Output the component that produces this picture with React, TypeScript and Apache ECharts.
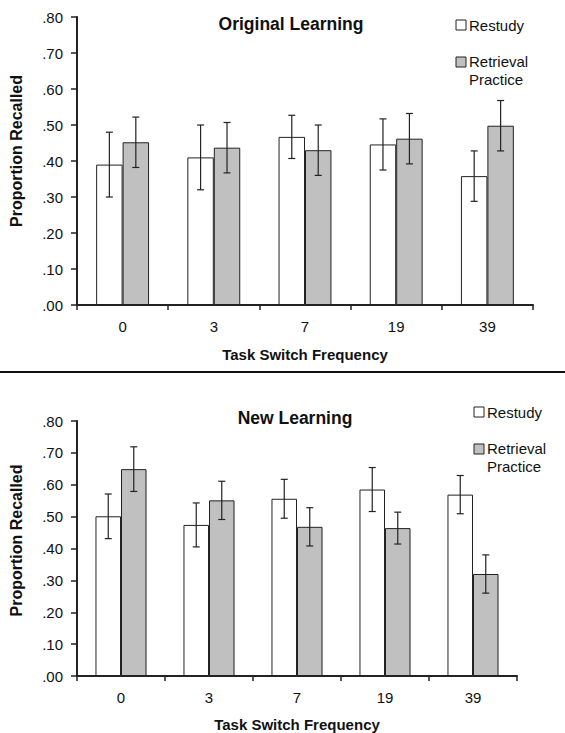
import React, { useEffect, useRef } from "react";
import * as echarts from "echarts";

const categories = ["0", "3", "7", "19", "39"];
const yTicks = [0, 0.1, 0.2, 0.3, 0.4, 0.5, 0.6, 0.7, 0.8];

const origRestudy = [0.39, 0.41, 0.467, 0.446, 0.358];
const origRetrieval = [0.452, 0.437, 0.43, 0.462, 0.498];
const origRestudyErr = [0.09, 0.09, 0.06, 0.071, 0.07];
const origRetrievalErr = [0.07, 0.07, 0.07, 0.07, 0.07];

const newRestudy = [0.501, 0.474, 0.556, 0.585, 0.569];
const newRetrieval = [0.649, 0.551, 0.468, 0.464, 0.32];
const newRestudyErr = [0.07, 0.069, 0.061, 0.069, 0.06];
const newRetrievalErr = [0.07, 0.06, 0.06, 0.05, 0.06];

const seriesNames = ["Restudy", "Retrieval Practice"];
const titles = ["Original Learning", "New Learning"];
const xName = "Task Switch Frequency";
const yName = "Proportion Recalled";

const FONT = "'Liberation Sans', Arial, sans-serif";
const INK = "#111";
const GRAY = "#c0c0c0";
const BAR_W = 0.29;
const FS = 15;

function fmt(v: number) {
  return v.toFixed(2).replace(/^0/, "");
}

function errSeries(
  values: number[],
  errs: number[],
  idx: number,
  side: number
): any {
  return {
    type: "custom",
    xAxisIndex: idx,
    yAxisIndex: idx,
    silent: true,
    z: 10,
    data: values.map((v, i) => [i, v - errs[i], v + errs[i]]),
    renderItem: (params: any, api: any) => {
      const band = api.size([1, 0])[0];
      const off = side * band * BAR_W * 0.5;
      const lo = api.coord([api.value(0), api.value(1)]);
      const hi = api.coord([api.value(0), api.value(2)]);
      const x = lo[0] + off;
      const cap = 3.5;
      const style = { stroke: "#222", lineWidth: 1.2 };
      return {
        type: "group",
        children: [
          { type: "line", shape: { x1: x, y1: lo[1], x2: x, y2: hi[1] }, style },
          { type: "line", shape: { x1: x - cap, y1: lo[1], x2: x + cap, y2: lo[1] }, style },
          { type: "line", shape: { x1: x - cap, y1: hi[1], x2: x + cap, y2: hi[1] }, style },
        ],
      };
    },
  };
}

function barSeries(name: string, values: number[], idx: number, fill: string): any {
  return {
    type: "bar",
    name,
    xAxisIndex: idx,
    yAxisIndex: idx,
    data: values,
    barWidth: BAR_W * 100 + "%",
    barGap: "0%",
    itemStyle: { color: fill, borderColor: "#222", borderWidth: 1 },
  };
}

function legendGraphic(x: number, y: number): any[] {
  const textStyle = (t: string, tx: number, ty: number) => ({
    type: "text",
    x: tx,
    y: ty,
    style: {
      text: t,
      font: `${FS}px ${FONT}`,
      fill: INK,
      verticalAlign: "middle",
      align: "left",
    },
  });
  return [
    {
      type: "rect",
      shape: { x, y: y - 5, width: 10, height: 10 },
      style: { fill: "#fff", stroke: "#222", lineWidth: 1 },
    },
    textStyle(seriesNames[0], x + 13, y),
    {
      type: "rect",
      shape: { x, y: y + 32, width: 10, height: 10 },
      style: { fill: GRAY, stroke: "#222", lineWidth: 1 },
    },
    textStyle("Retrieval", x + 13, y + 36),
    textStyle("Practice", x + 13, y + 54),
  ];
}

export default function App() {
  const ref = useRef<HTMLDivElement>(null);

  useEffect(() => {
    document.body.style.margin = "0";
    const chart = echarts.init(ref.current!, undefined, { renderer: "svg" });

    const grids = [
      { left: 71, top: 17, width: 462, height: 288 },
      { left: 70, top: 421, width: 447, height: 262 },
    ];
    const yNameShift = [20, 16];

    const xAxes = grids.map((_, i) => ({
      type: "category",
      gridIndex: i,
      data: categories,
      name: xName,
      nameLocation: "middle",
      nameGap: i === 0 ? 42 : 41,
      nameTextStyle: { fontFamily: FONT, fontSize: FS, fontWeight: "bold", color: INK },
      axisLine: { show: true, lineStyle: { color: "#222", width: 2 } },
      axisTick: { show: true, length: 5, lineStyle: { color: "#222", width: 1.5 } },
      axisLabel: { fontFamily: FONT, fontSize: FS, color: INK, margin: 14 },
      splitLine: { show: false },
    }));

    const yAxes = grids.map((_, i) => ({
      type: "value",
      gridIndex: i,
      min: yTicks[0],
      max: yTicks[yTicks.length - 1],
      interval: 0.1,
      name: yName,
      nameLocation: "middle",
      nameGap: 53,
      nameRotate: 90,
      nameTextStyle: {
        fontFamily: FONT,
        fontSize: 16,
        fontWeight: "bold",
        color: INK,
        padding: [0, 0, 0, yNameShift[i]],
      },
      axisLine: { show: true, lineStyle: { color: "#222", width: 2 } },
      axisTick: { show: true, length: 6, lineStyle: { color: "#222", width: 1.5 } },
      axisLabel: {
        fontFamily: FONT,
        fontSize: FS,
        color: INK,
        margin: 14,
        formatter: (v: number) => fmt(v),
      },
      splitLine: { show: false },
    }));

    chart.setOption({
      animation: false,
      backgroundColor: "#fff",
      title: [
        {
          text: titles[0],
          left: 286,
          top: 10,
          textAlign: "center",
          textStyle: { fontFamily: FONT, fontSize: 17.5, fontWeight: "bold", color: INK },
        },
        {
          text: titles[1],
          left: 290,
          top: 404,
          textAlign: "center",
          textStyle: { fontFamily: FONT, fontSize: 17.5, fontWeight: "bold", color: INK },
        },
      ],
      grid: grids,
      xAxis: xAxes,
      yAxis: yAxes,
      series: [
        barSeries(seriesNames[0], origRestudy, 0, "#fff"),
        barSeries(seriesNames[1], origRetrieval, 0, GRAY),
        errSeries(origRestudy, origRestudyErr, 0, -1),
        errSeries(origRetrieval, origRetrievalErr, 0, 1),
        barSeries(seriesNames[0], newRestudy, 1, "#fff"),
        barSeries(seriesNames[1], newRetrieval, 1, GRAY),
        errSeries(newRestudy, newRestudyErr, 1, -1),
        errSeries(newRetrieval, newRetrievalErr, 1, 1),
      ],
      graphic: [
        {
          type: "line",
          shape: { x1: 0, y1: 372, x2: 565, y2: 372 },
          style: { stroke: "#111", lineWidth: 2 },
        },
        ...legendGraphic(456, 25),
        ...legendGraphic(474, 412),
      ],
    });

    return () => chart.dispose();
  }, []);

  return (
    <div
      ref={ref}
      style={{ position: "absolute", left: 0, top: 0, width: 565, height: 733 }}
    />
  );
}
